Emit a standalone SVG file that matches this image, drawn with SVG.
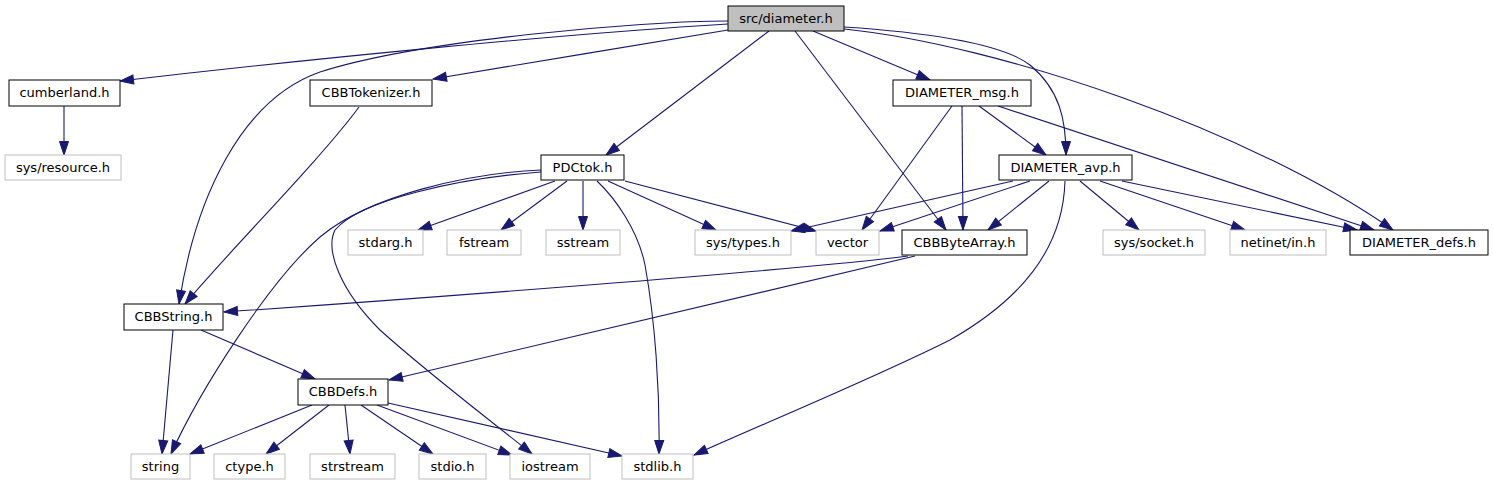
<svg xmlns="http://www.w3.org/2000/svg" width="1493" height="485" viewBox="0 0 1493 485">
<style>
.n rect{fill:#ffffff;stroke:#000000;stroke-width:1}
.g rect{fill:#ffffff;stroke:#bfbfbf;stroke-width:1}
.r rect{fill:#bfbfbf;stroke:#000000;stroke-width:1}
text{font-family:"DejaVu Sans","Liberation Sans",sans-serif;font-size:13px;fill:#000000;text-anchor:middle}
.e path{fill:none;stroke:#191970;stroke-width:1.1;marker-end:url(#a)}
</style>
<defs>
<marker id="a" markerWidth="15" markerHeight="11" refX="13.5" refY="4.5" orient="auto" markerUnits="userSpaceOnUse" overflow="visible">
<path d="M0,0L13.5,4.5L0,9z" fill="#191970" stroke="#191970" stroke-width="1"/>
</marker>
</defs>
<rect width="1493" height="485" fill="#ffffff"/>
<g id="edges" class="e">
<path d="M728,24 C560,34 300,60 120,81"/>
<path d="M728,30 C640,45 520,64 433,79"/>
<path d="M728,21 C640,21 420,40 320,72 C240,100 195,200 179,304"/>
<path d="M64,106 L64,155"/>
<path d="M359,107 C320,160 230,250 185,304"/>
<path d="M769,31 L606,155"/>
<path d="M795,31 L946,230"/>
<path d="M813,31 L930,80"/>
<path d="M844,27 C920,32 1000,42 1030,65 C1060,90 1066,120 1066,155"/>
<path d="M844,29 C1000,45 1250,130 1393,230"/>
<path d="M952,106 L862,230"/>
<path d="M962,106 L963,230"/>
<path d="M979,106 L1046,155"/>
<path d="M998,106 L1374,230"/>
<path d="M1049,181 L988,230"/>
<path d="M1013,181 L791,231"/>
<path d="M1030,181 L880,231"/>
<path d="M1065,181 C1063,250 1020,300 950,340 C870,380 760,425 694,455"/>
<path d="M1080,181 L1139,230"/>
<path d="M1100,181 L1245,230"/>
<path d="M1122,181 L1357,230"/>
<path d="M908,256 C800,270 400,300 224,312"/>
<path d="M915,256 L389,380"/>
<path d="M173,330 L162,454"/>
<path d="M201,330 L315,379"/>
<path d="M312,405 L190,454"/>
<path d="M329,405 L266,454"/>
<path d="M345,405 L350,454"/>
<path d="M361,405 L433,454"/>
<path d="M377,405 L512,455"/>
<path d="M388,403 L622,456"/>
<path d="M541,170 C470,173 370,195 320,237 C270,280 200,390 171,454"/>
<path d="M541,172 C460,178 360,200 335,230 C325,250 340,290 380,330 C430,375 490,420 532,454"/>
<path d="M555,181 L418,230"/>
<path d="M567,181 L501,230"/>
<path d="M583,181 L583,230"/>
<path d="M597,181 C615,198 638,230 645,265 C655,320 660,390 659,454"/>
<path d="M608,181 L716,230"/>
<path d="M625,181 L816,231"/>
</g>
<g id="node_src" class="r"><rect x="728" y="6" width="116" height="25"/><text x="786" y="23">src/diameter.h</text></g>
<g id="node_cumberland" class="n"><rect x="9" y="80" width="111" height="26"/><text x="64.5" y="97">cumberland.h</text></g>
<g id="node_sysresource" class="g"><rect x="5" y="155" width="116" height="25"/><text x="63" y="172">sys/resource.h</text></g>
<g id="node_CBBTokenizer" class="n"><rect x="310" y="80" width="122" height="26"/><text x="371" y="97">CBBTokenizer.h</text></g>
<g id="node_PDCtok" class="n"><rect x="541" y="155" width="83" height="25"/><text x="582.5" y="172">PDCtok.h</text></g>
<g id="node_DIAMETER_msg" class="n"><rect x="893" y="80" width="138" height="26"/><text x="962" y="97">DIAMETER_msg.h</text></g>
<g id="node_DIAMETER_avp" class="n"><rect x="999" y="155" width="133" height="25"/><text x="1065.5" y="172">DIAMETER_avp.h</text></g>
<g id="node_stdarg" class="g"><rect x="348" y="230" width="75" height="25"/><text x="385.5" y="247">stdarg.h</text></g>
<g id="node_fstream" class="g"><rect x="447" y="230" width="74" height="25"/><text x="484" y="247">fstream</text></g>
<g id="node_sstream" class="g"><rect x="546" y="230" width="74" height="25"/><text x="583" y="247">sstream</text></g>
<g id="node_systypes" class="g"><rect x="695" y="230" width="96" height="25"/><text x="743" y="247">sys/types.h</text></g>
<g id="node_vector" class="g"><rect x="816" y="230" width="63" height="25"/><text x="847.5" y="247">vector</text></g>
<g id="node_CBBByteArray" class="n"><rect x="902" y="230" width="125" height="25"/><text x="964.5" y="247">CBBByteArray.h</text></g>
<g id="node_syssocket" class="g"><rect x="1103" y="230" width="102" height="25"/><text x="1154" y="247">sys/socket.h</text></g>
<g id="node_netinet" class="g"><rect x="1230" y="230" width="96" height="25"/><text x="1278" y="247">netinet/in.h</text></g>
<g id="node_DIAMETER_defs" class="n"><rect x="1350" y="230" width="138" height="25"/><text x="1419" y="247">DIAMETER_defs.h</text></g>
<g id="node_CBBString" class="n"><rect x="124" y="304" width="99" height="26"/><text x="173.5" y="321">CBBString.h</text></g>
<g id="node_CBBDefs" class="n"><rect x="298" y="379" width="90" height="26"/><text x="343" y="396">CBBDefs.h</text></g>
<g id="node_string" class="g"><rect x="131" y="454" width="59" height="25"/><text x="160.5" y="471">string</text></g>
<g id="node_ctype" class="g"><rect x="214" y="454" width="71" height="25"/><text x="249.5" y="471">ctype.h</text></g>
<g id="node_strstream" class="g"><rect x="310" y="454" width="85" height="25"/><text x="352.5" y="471">strstream</text></g>
<g id="node_stdio" class="g"><rect x="419" y="454" width="67" height="25"/><text x="452.5" y="471">stdio.h</text></g>
<g id="node_iostream" class="g"><rect x="510" y="454" width="80" height="25"/><text x="550" y="471">iostream</text></g>
<g id="node_stdlib" class="g"><rect x="622" y="454" width="71" height="25"/><text x="657.5" y="471">stdlib.h</text></g>
</svg>
